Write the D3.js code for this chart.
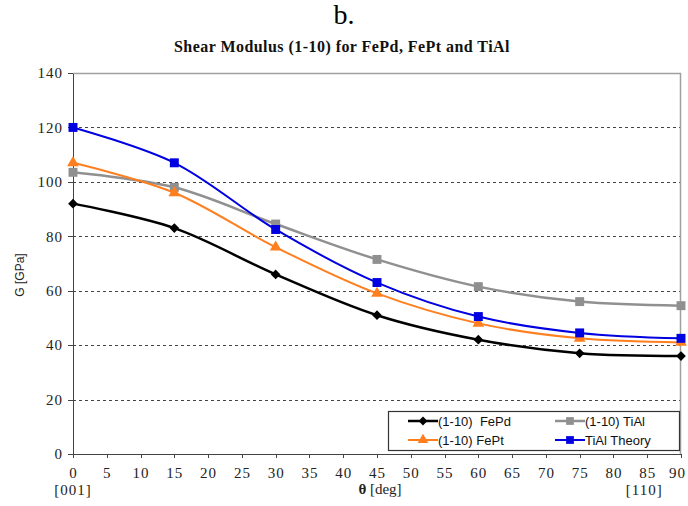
<!DOCTYPE html>
<html>
<meta charset="utf-8">
<style>
body { margin: 0; background: #fff; }
svg { display: block; }
.axis path, .axis line { stroke: #444; shape-rendering: crispEdges; }
.grid line { stroke: #444; stroke-dasharray: 3,3; shape-rendering: crispEdges; }
.legend text { font-family: 'Liberation Sans', Arial, sans-serif; font-size: 13px; fill: #111; }
</style>
<body>
<script src="https://cdnjs.cloudflare.com/ajax/libs/d3/7.8.5/d3.min.js"></script>
<script>
var w = 688, h = 506;
var margin = {left: 73, right: 7, top: 73, bottom: 52};

// angle theta in degrees
var angles = [0, 15, 30, 45, 60, 75, 90];
// G [GPa] per series
var fePd = [92, 83, 66, 51, 42, 37, 36];
var fePt = [107, 96, 76, 59, 48, 42.5, 41];
var tiAl = [103.5, 98, 84.5, 71.5, 61.5, 56, 54.5];
var tiAlTheory = [120, 107, 82.5, 63, 50.5, 44.5, 42.5];

var xTicks = d3.range(0, 95, 5);
var yTicks = [0, 20, 40, 60, 80, 100, 120, 140];

var series = [
  {name: "(1-10)  FePd", values: fePd, color: "#000000", marker: "diamond", lw: 2.5},
  {name: "(1-10) FePt", values: fePt, color: "#ff7f1f", marker: "triangle", lw: 2},
  {name: "(1-10) TiAl", values: tiAl, color: "#909090", marker: "square", lw: 2.5},
  {name: "TiAl Theory", values: tiAlTheory, color: "#0000e0", marker: "square", lw: 2}
];
// draw order: gray under the others
var drawOrder = [series[2], series[0], series[1], series[3]];

var serif = "'Liberation Serif', 'Times New Roman', serif";

var svg = d3.select("body").append("svg")
    .attr("width", w)
    .attr("height", h);

var x = d3.scaleLinear().domain([0, 90]).range([margin.left, w - margin.right]);
var y = d3.scaleLinear().domain([0, 140]).range([h - margin.bottom, margin.top]);

// titles
svg.append("text")
    .attr("x", 344).attr("y", 24)
    .attr("text-anchor", "middle")
    .style("font-family", serif)
    .style("font-size", "28px")
    .text("b.");
svg.append("text")
    .attr("x", 342).attr("y", 52)
    .attr("text-anchor", "middle")
    .style("font-family", serif)
    .style("font-size", "16px")
    .style("font-weight", "bold")
    .style("letter-spacing", "0.45px")
    .style("fill", "#111")
    .text("Shear Modulus (1-10) for FePd, FePt and TiAl");

// grid
svg.append("g").attr("class", "grid")
  .selectAll("line")
  .data(yTicks.filter(function(d) { return d > 0 && d < 140; }))
  .enter().append("line")
    .attr("x1", x(0)).attr("x2", x(90))
    .attr("y1", function(d) { return Math.round(y(d)) + 0.5; })
    .attr("y2", function(d) { return Math.round(y(d)) + 0.5; });

// plot frame top/right
svg.append("path")
    .attr("d", "M" + x(0) + "," + (y(140) + 0.5) + "H" + (x(90) - 0.5) + "V" + y(0))
    .attr("fill", "none")
    .attr("stroke", "#a0a0a0")
    .attr("stroke-width", 1.5);

// axes
var xAxisG = svg.append("g")
    .attr("class", "axis")
    .attr("transform", "translate(0," + y(0) + ")")
    .call(d3.axisBottom(x).tickValues(xTicks).tickSize(4).tickSizeOuter(0).tickPadding(9));

svg.append("g")
    .attr("class", "axis")
    .attr("transform", "translate(" + x(0) + ",0)")
    .call(d3.axisLeft(y).tickValues(yTicks).tickSize(5).tickSizeOuter(0).tickPadding(5));

svg.selectAll(".axis path").attr("stroke-width", 1.5);
svg.selectAll(".axis text")
    .attr("font-family", serif)
    .style("font-family", serif)
    .style("font-size", "15px")
    .style("letter-spacing", "1px")
    .style("fill", "#222");
// keep the last x label inside the page
xAxisG.selectAll(".tick text")
    .filter(function(d) { return d === 90; })
    .attr("dx", "-4px");

// axis labels
svg.append("text")
    .attr("transform", "translate(24,275) rotate(-90)")
    .attr("text-anchor", "middle")
    .style("font-family", "'Liberation Sans', Arial, sans-serif")
    .style("font-size", "12px")
    .style("fill", "#222")
    .text("G [GPa]");

var xl = svg.append("text")
    .attr("x", x(45) + 3).attr("y", 494)
    .attr("text-anchor", "middle")
    .style("font-family", serif)
    .style("font-size", "15px")
    .style("fill", "#222");
xl.append("tspan").style("font-weight", "bold").text("θ");
xl.append("tspan").text(" [deg]");

svg.append("text")
    .attr("x", x(0)).attr("y", 495)
    .attr("text-anchor", "middle")
    .style("font-family", serif)
    .style("font-size", "15px")
    .style("letter-spacing", "1px")
    .style("fill", "#222")
    .text("[001]");
svg.append("text")
    .attr("x", x(85) - 3).attr("y", 495)
    .attr("text-anchor", "middle")
    .style("font-family", serif)
    .style("font-size", "15px")
    .style("letter-spacing", "1px")
    .style("fill", "#222")
    .text("[110]");

// lines
var line = d3.line()
    .x(function(d, i) { return x(angles[i]); })
    .y(function(d) { return y(d); })
    .curve(d3.curveCatmullRom.alpha(0.5));

function symbolFor(m, size) {
  if (m === "diamond") return d3.symbol().type(d3.symbolDiamond2).size(size || 60)();
  if (m === "triangle") return d3.symbol().type(d3.symbolTriangle).size(size || 60)();
  return d3.symbol().type(d3.symbolSquare).size(size || 80)();
}

drawOrder.forEach(function(s) {
  svg.append("path")
      .datum(s.values)
      .attr("d", line)
      .attr("fill", "none")
      .attr("stroke", s.color)
      .attr("stroke-width", s.lw);
  svg.append("g").selectAll("path")
      .data(s.values)
      .enter().append("path")
      .attr("transform", function(d, i) { return "translate(" + x(angles[i]) + "," + y(d) + ")"; })
      .attr("d", symbolFor(s.marker))
      .attr("fill", s.color);
});

// legend
var lg = svg.append("g").attr("class", "legend");
lg.append("rect")
    .attr("x", 388.5).attr("y", 411.5)
    .attr("width", 291).attr("height", 39)
    .attr("fill", "#fff")
    .attr("stroke", "#333")
    .attr("stroke-width", 1.2);

var legendPos = [
  {s: series[0], lx: 408, ly: 421},
  {s: series[2], lx: 555, ly: 421},
  {s: series[1], lx: 408, ly: 440},
  {s: series[3], lx: 555, ly: 440}
];
var item = lg.selectAll(".item")
    .data(legendPos)
    .enter().append("g")
    .attr("class", "item")
    .attr("transform", function(d) { return "translate(" + d.lx + "," + d.ly + ")"; });
item.append("line")
    .attr("x1", 0).attr("x2", 30)
    .attr("stroke", function(d) { return d.s.color; })
    .attr("stroke-width", function(d) { return d.s.lw; });
item.append("path")
    .attr("transform", "translate(15,0)")
    .attr("d", function(d) { return symbolFor(d.s.marker, d.s.marker === "square" ? 60 : 50); })
    .attr("fill", function(d) { return d.s.color; });
item.append("text")
    .attr("x", 30).attr("dy", "0.35em")
    .style("white-space", "pre")
    .text(function(d) { return d.s.name; });
</script>
</body>
</html>
